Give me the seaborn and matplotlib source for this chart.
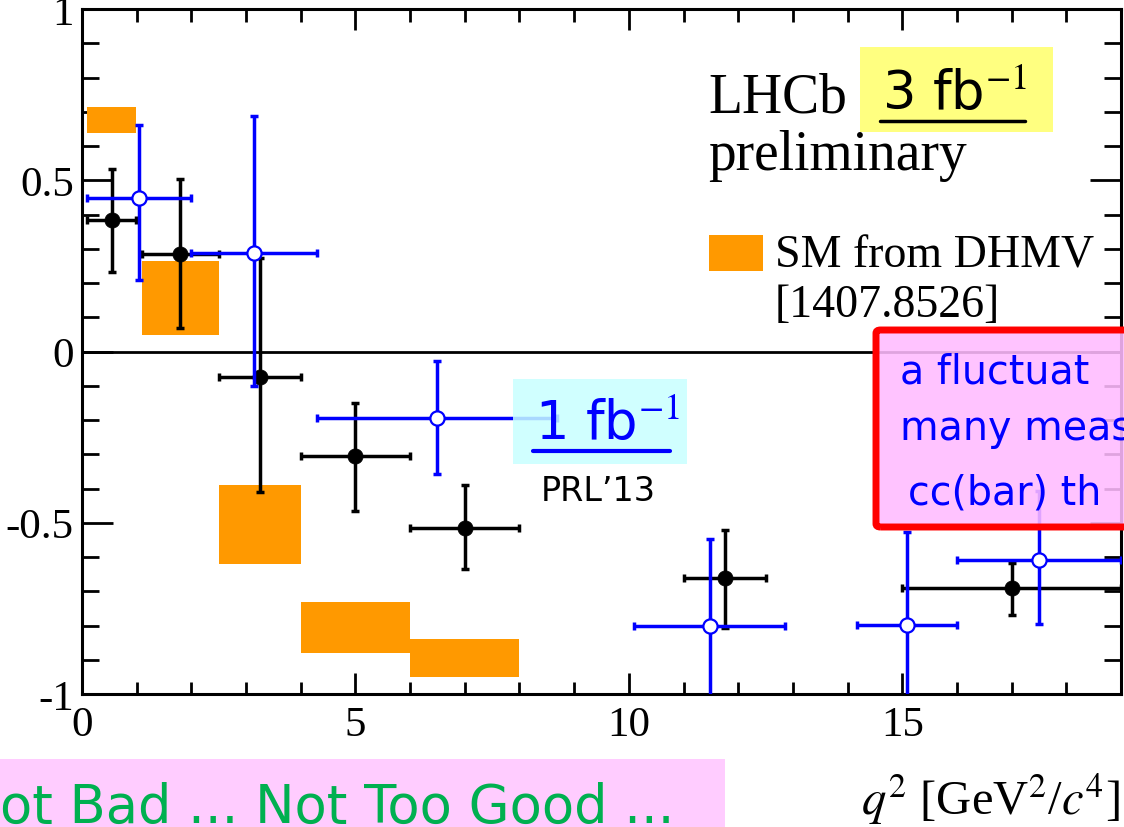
import numpy as np
import pandas as pd
import matplotlib
matplotlib.use("Agg")
import matplotlib.pyplot as plt
from matplotlib.patches import Rectangle, FancyBboxPatch
from matplotlib.lines import Line2D
from matplotlib.ticker import MultipleLocator, FixedLocator
import seaborn as sns

# SM prediction (DHMV) bands: q2 bin edges and P5' range
sm_q2_lo = [0.1, 1.1, 2.5, 4.0, 6.0]
sm_q2_hi = [0.98, 2.5, 4.0, 6.0, 8.0]
sm_p5_lo = [0.637, 0.047, -0.620, -0.880, -0.950]
sm_p5_hi = [0.713, 0.263, -0.390, -0.730, -0.840]

# LHCb 3 fb-1 preliminary
q2_lo_3fb = [0.1, 1.1, 2.5, 4.0, 6.0, 11.0, 15.0]
q2_hi_3fb = [0.98, 2.5, 4.0, 6.0, 8.0, 12.5, 19.0]
p5_3fb = [0.383, 0.284, -0.073, -0.306, -0.514, -0.662, -0.690]
p5_3fb_up = [0.149, 0.221, 0.347, 0.157, 0.124, 0.142, 0.073]
p5_3fb_dn = [0.152, 0.214, 0.337, 0.159, 0.121, 0.145, 0.080]

# LHCb 1 fb-1 (PRL 2013)
q2_lo_1fb = [0.1, 2.0, 4.3, 10.09, 14.18, 16.0]
q2_hi_1fb = [2.0, 4.3, 8.68, 12.86, 16.0, 19.0]
p5_1fb = [0.447, 0.287, -0.193, -0.800, -0.798, -0.608]
p5_1fb_up = [0.213, 0.400, 0.164, 0.253, 0.272, 0.200]
p5_1fb_dn = [0.237, 0.389, 0.164, 0.270, 0.220, 0.187]

x_ticks = [0, 5, 10, 15]
x_tick_labels = ["0", "5", "10", "15"]
y_ticks = [-1, -0.5, 0, 0.5, 1]
y_tick_labels = ["-1", "-0.5", "0", "0.5", "1"]

sns.set_theme(style="ticks")
plt.rcParams["font.family"] = ["Liberation Serif", "DejaVu Serif"]
plt.rcParams["mathtext.fontset"] = "stix"

W, H = 1124, 828
fig = plt.figure(figsize=(W / 100, H / 100), dpi=100)
fig.patch.set_facecolor("white")


def fx(px):
    return px / W


def fy(py):
    return 1 - py / H


ax_l, ax_r, ax_t, ax_b = 82, 1121, 10, 695
ax = fig.add_axes([fx(ax_l), fy(ax_b), fx(ax_r) - fx(ax_l), fy(ax_t) - fy(ax_b)])
ax.set_facecolor("white")
ax.set_xlim(0, 19)
ax.set_ylim(-1, 1)

# SM bands
ax.bar(sm_q2_lo, np.subtract(sm_p5_hi, sm_p5_lo), bottom=sm_p5_lo,
       width=np.subtract(sm_q2_hi, sm_q2_lo), align="edge",
       color="#FF9900", linewidth=0, zorder=1)

ax.axhline(0, color="black", lw=2.0, zorder=2)


def measurement(lo, hi, val, up, dn):
    lo, hi = np.asarray(lo), np.asarray(hi)
    xc = (lo + hi) / 2
    return pd.DataFrame({"q2": xc, "p5": val, "xl": xc - lo, "xh": hi - xc,
                         "up": up, "dn": dn})


d3 = measurement(q2_lo_3fb, q2_hi_3fb, p5_3fb, p5_3fb_up, p5_3fb_dn)
d1 = measurement(q2_lo_1fb, q2_hi_1fb, p5_1fb, p5_1fb_up, p5_1fb_dn)

blue = "#0000FF"
ax.errorbar(d3["q2"], d3["p5"], yerr=[d3["dn"], d3["up"]], xerr=[d3["xl"], d3["xh"]],
            fmt="none", ecolor="black", elinewidth=2.5, capsize=3, capthick=2.5, zorder=3)
sns.scatterplot(data=d3, x="q2", y="p5", ax=ax, color="black", s=120,
                edgecolor="black", linewidth=0.5, zorder=4, legend=False)

ax.errorbar(d1["q2"], d1["p5"], yerr=[d1["dn"], d1["up"]], xerr=[d1["xl"], d1["xh"]],
            fmt="none", ecolor=blue, elinewidth=2.5, capsize=3, capthick=2.5, zorder=5)
sns.scatterplot(data=d1, x="q2", y="p5", ax=ax, color="white", s=105,
                edgecolor=blue, linewidth=1.6, zorder=6, legend=False)

# frame and ticks
for sp in ax.spines.values():
    sp.set_visible(True)
    sp.set_linewidth(2.2)
    sp.set_color("black")
ax.xaxis.set_major_locator(FixedLocator(x_ticks))
ax.xaxis.set_minor_locator(MultipleLocator(1))
ax.yaxis.set_major_locator(FixedLocator(y_ticks))
ax.yaxis.set_minor_locator(MultipleLocator(0.1))
ax.set_xticklabels(x_tick_labels)
ax.set_yticklabels(y_tick_labels)
ax.tick_params(which="both", direction="in", top=True, right=True, color="black",
               width=2.0, labelsize=31, labelcolor="black")
ax.tick_params(axis="x", which="major", length=15, pad=8)
ax.tick_params(axis="x", which="minor", length=9)
ax.tick_params(axis="y", which="major", length=22, pad=6)
ax.tick_params(axis="y", which="minor", length=12)
ax.set_xlabel("")
ax.set_ylabel("")

fig.text(fx(1120), fy(815), r"$q^2$ [GeV$^2$/$c^4$]", ha="right", va="baseline",
         fontsize=35, color="black")

# LHCb label and SM legend
fig.text(fx(708), fy(113), "LHCb", fontsize=40, va="baseline", color="black")
fig.text(fx(708), fy(170), "preliminary", fontsize=40, va="baseline", color="black")
fig.add_artist(Rectangle((fx(709), fy(272)), fx(763) - fx(709), fy(236) - fy(272),
                         transform=fig.transFigure, facecolor="#FF9900", lw=0, zorder=5))
fig.text(fx(775), fy(268), "SM from DHMV", fontsize=33, va="baseline", color="black")
fig.text(fx(775), fy(317), "[1407.8526]", fontsize=33, va="baseline", color="black")

sans = ["DejaVu Sans"]

# 3 fb-1 tag
fig.add_artist(Rectangle((fx(860), fy(133)), fx(1053) - fx(860), fy(48) - fy(133),
                         transform=fig.transFigure, facecolor="#FFFF80", lw=0, zorder=5))
fig.text(fx(882), fy(110), r"3 fb$^{-1}$", family=sans, fontsize=38, va="baseline",
         color="black", zorder=6)
fig.add_artist(Line2D([fx(880), fx(1025)], [fy(122), fy(122)], transform=fig.transFigure,
                      color="black", lw=2.5, zorder=6))

# 1 fb-1 tag
fig.add_artist(Rectangle((fx(513), fy(465)), fx(687) - fx(513), fy(380) - fy(465),
                         transform=fig.transFigure, facecolor="#C8FFFF", alpha=0.85,
                         lw=0, zorder=5))
fig.text(fx(535), fy(440), r"1 fb$^{-1}$", family=sans, fontsize=38, va="baseline",
         color=blue, zorder=6)
fig.add_artist(Line2D([fx(533), fx(670)], [fy(452), fy(452)], transform=fig.transFigure,
                      color=blue, lw=3, zorder=6))
fig.text(fx(598), fy(492), "PRL’13", family=sans, fontsize=24, ha="center", va="center",
         color="black", zorder=6)

# comment box on the right
fig.add_artist(FancyBboxPatch((fx(876), fy(528)), fx(1140) - fx(876), fy(331) - fy(528),
                              boxstyle="round,pad=0,rounding_size=0.004",
                              transform=fig.transFigure, facecolor="#FFBBFF", alpha=0.88,
                              edgecolor="none", zorder=5))
fig.add_artist(FancyBboxPatch((fx(876), fy(528)), fx(1140) - fx(876), fy(331) - fy(528),
                              boxstyle="round,pad=0,rounding_size=0.004",
                              transform=fig.transFigure, facecolor="none",
                              edgecolor="#FF0000", lw=5, zorder=6))
box_lines = ["a fluctuat", "many meas", "cc(bar) th"]
box_x = [900, 900, 908]
box_y = [383, 440, 505]
for s, bx, by in zip(box_lines, box_x, box_y):
    fig.text(fx(bx), fy(by), s, family=sans, fontsize=28.5, va="baseline",
             color=blue, zorder=7)

# bottom remark
fig.add_artist(Rectangle((0, 0), fx(725), fy(760), transform=fig.transFigure,
                         facecolor="#FFCCFF", lw=0, zorder=5))
fig.text(fx(0), fy(823), "ot Bad ... Not Too Good ...", family=sans, fontsize=38,
         va="baseline", color="#00B050", zorder=6)

fig.savefig("out.png", dpi=100)
